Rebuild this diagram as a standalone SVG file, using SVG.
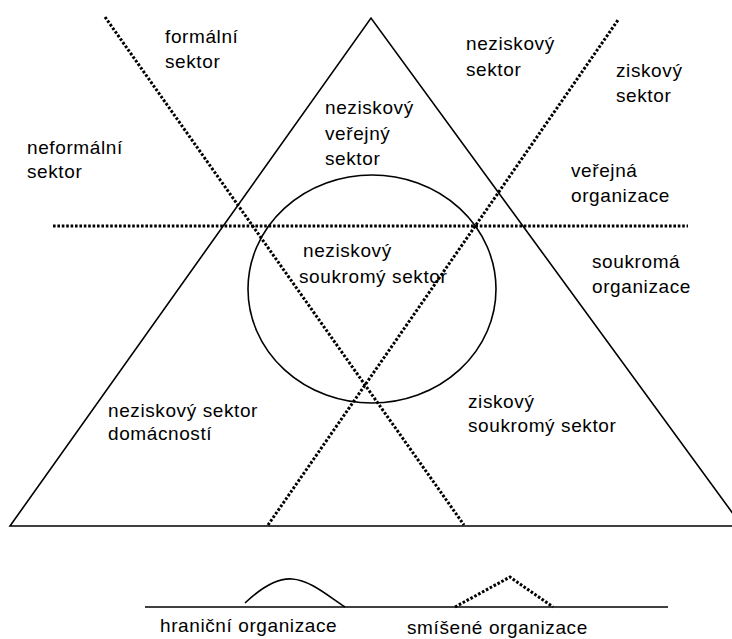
<svg xmlns="http://www.w3.org/2000/svg" width="732" height="639" viewBox="0 0 732 639">
<style>
.solid{fill:none;stroke:#000;stroke-width:1.6}
.dot{fill:none;stroke:#000;stroke-width:3;stroke-dasharray:2.6 1.8}
text{font-family:"Liberation Sans",Arial,sans-serif;font-size:19px;letter-spacing:0.6px;fill:#000}
</style>
<rect width="732" height="639" fill="#fff"/>
<g id="shapes">
<polygon id="triangle" class="solid" points="10,526 371,18 742,526"/>
<ellipse id="circle" class="solid" cx="372" cy="289" rx="124" ry="114"/>
</g>
<g id="connectors">
<line class="dot" x1="105" y1="17" x2="464" y2="525"/>
<line class="dot" x1="268" y1="525" x2="618" y2="20"/>
<line class="dot" x1="53" y1="226" x2="688" y2="226"/>
</g>
<g id="labels">
<g id="formalni"><text x="165" y="43">formální</text><text x="165" y="68">sektor</text></g>
<g id="neformalni"><text x="27" y="154">neformální</text><text x="27" y="178">sektor</text></g>
<g id="verejny"><text x="325" y="114">neziskový</text><text x="325" y="140">veřejný</text><text x="325" y="165">sektor</text></g>
<g id="neziskovy"><text x="466" y="50">neziskový</text><text x="466" y="76">sektor</text></g>
<g id="ziskovy"><text x="616" y="77">ziskový</text><text x="616" y="102">sektor</text></g>
<g id="verejna"><text x="571" y="177">veřejná</text><text x="571" y="202">organizace</text></g>
<g id="soukromy"><text x="303" y="257">neziskový</text><text x="299" y="283">soukromý sektor</text></g>
<g id="soukroma"><text x="592" y="268">soukromá</text><text x="592" y="293">organizace</text></g>
<g id="domacnosti"><text x="108" y="417">neziskový sektor</text><text x="108" y="440">domácností</text></g>
<g id="ziskovysoukromy"><text x="468" y="408">ziskový</text><text x="468" y="432">soukromý sektor</text></g>
</g>
<g id="legend">
<line class="solid" x1="145" y1="607" x2="668" y2="607"/>
<path class="solid" d="M245,603 C262,587 278,578 292,579 C310,580 328,596 345,607"/>
<polyline class="dot" points="455,607 510,577 553,607"/>
<text x="160" y="632">hraniční organizace</text>
<text x="407" y="634">smíšené organizace</text>
</g>
</svg>
